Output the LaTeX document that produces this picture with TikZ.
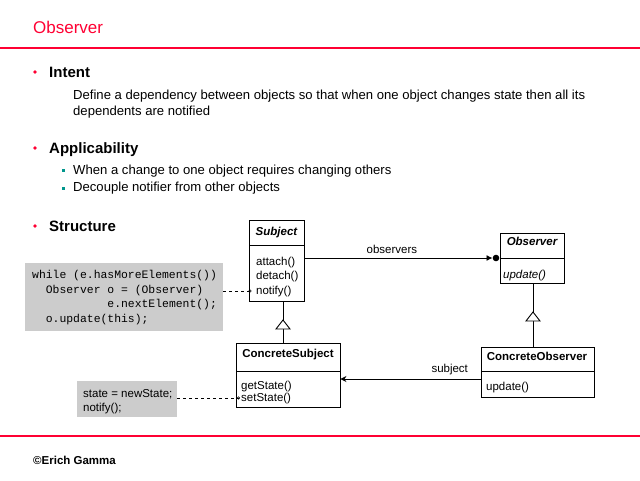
\documentclass[tikz,border=0pt]{standalone}
\usepackage{fontspec}
\setmainfont{Liberation Sans}
\setmonofont{Liberation Mono}
\usetikzlibrary{arrows.meta}
\definecolor{titlered}{RGB}{255,0,51}
\definecolor{bulletteal}{RGB}{0,150,140}
\definecolor{notegray}{RGB}{204,204,204}
\tikzset{
  txt/.style={inner sep=0pt, anchor=base west},
  ctxt/.style={inner sep=0pt, anchor=base},
  classbox/.style={draw=black, line width=0.9pt, fill=white, inner sep=0pt},
  notebox/.style={fill=notegray, inner sep=0pt},
  redline/.style={draw=titlered, line width=1.2pt},
  uml/.style={font=\fontsize{11.5}{14}\selectfont},
  umlb/.style={font=\fontsize{11.5}{14}\selectfont\bfseries},
  umlbi/.style={font=\fontsize{11.5}{14}\selectfont\bfseries\itshape},
  head/.style={font=\fontsize{15}{18}\selectfont\bfseries},
  body/.style={font=\fontsize{13.1}{16}\selectfont},
  conn/.style={draw=black, line width=0.9pt},
  noteconn/.style={draw=black, line width=0.8pt, dash pattern=on 3pt off 3pt},
  gentri/.style={draw=black, line width=0.9pt, fill=white}
}
\begin{document}
\begin{tikzpicture}[x=1pt,y=-1pt]
\useasboundingbox (0,0) rectangle (640,480);
\fill[white] (0,0) rectangle (640,480);

% title and rules
\node[txt, text=titlered, font=\fontsize{17}{20}\selectfont] (title) at (33,33) {Observer};
\draw[redline] (0,48) coordinate (rt1) -- (640,48) coordinate (rt2);
\draw[redline] (0,436) coordinate (rb1) -- (640,436) coordinate (rb2);

% bullets
\fill[titlered] (35,72) circle (1.8);
\fill[titlered] (35,148) circle (1.8);
\fill[titlered] (35,226) circle (1.8);
\fill[bulletteal] (61.5,168.5) rectangle (64.5,171.5);
\fill[bulletteal] (61.5,186.5) rectangle (64.5,189.5);

\node[txt, head] (intent) at (49,77.3) {Intent};
\node[txt, body] (def1) at (73,99) {Define a dependency between objects so that when one object changes state then all its};
\node[txt, body] (def2) at (73,115) {dependents are notified};
\node[txt, head] (appl) at (49,153.5) {Applicability};
\node[txt, body] (app1) at (73,174) {When a change to one object requires changing others};
\node[txt, body] (app2) at (73,191.5) {Decouple notifier from other objects};
\node[txt, head] (struct) at (49,231) {Structure};

% code note
\node[notebox, minimum width=198, minimum height=68] (note1) at (124,297) {};
\node[txt, font=\fontsize{11.4}{14.7}\selectfont\ttfamily] (c1) at (32,278.3) {while (e.hasMoreElements())};
\node[txt, font=\fontsize{11.4}{14.7}\selectfont\ttfamily] (c2) at (32,293.3) {\ \ Observer o = (Observer)};
\node[txt, font=\fontsize{11.4}{14.7}\selectfont\ttfamily] (c3) at (32,307.8) {\ \ \ \ \ \ \ \ \ \ \ e.nextElement();};
\node[txt, font=\fontsize{11.4}{14.7}\selectfont\ttfamily] (c4) at (32,322.4) {\ \ o.update(this);};

% second note
\node[notebox, minimum width=100, minimum height=36] (note2) at (127,399) {};
\node[txt, uml] (n1) at (83,397.3) {state = newState;};
\node[txt, uml] (n2) at (83,411) {notify();};

% Subject class
\node[classbox, minimum width=55, minimum height=81] (subject) at (276.5,260.5) {};
\draw[conn] (249,245) -- (304,245);
\node[ctxt, umlbi] (subjectT) at (276.5,235.7) {Subject};
\node[txt, uml] (attach) at (256,265.7) {attach()};
\node[txt, uml] (detach) at (256,279.5) {detach()};
\node[txt, uml] (notify) at (256,294.3) {notify()};

% Observer class
\node[classbox, minimum width=64, minimum height=50] (observer) at (532,258) {};
\draw[conn] (500,258) -- (564,258);
\node[ctxt, umlbi] (observerT) at (532,245.7) {Observer};
\node[txt, uml, font=\fontsize{11.5}{14}\selectfont\itshape] (oupdate) at (503,278.3) {update()};

% ConcreteSubject class
\node[classbox, minimum width=104, minimum height=64] (csubject) at (288,375) {};
\draw[conn] (236,371) -- (340,371);
\node[ctxt, umlb] (csubjectT) at (288,357.3) {ConcreteSubject};
\node[txt, uml] (getstate) at (241,389.3) {getState()};
\node[txt, uml] (setstate) at (241,401.7) {setState()};

% ConcreteObserver class
\node[classbox, minimum width=113, minimum height=50] (cobserver) at (537.5,372) {};
\draw[conn] (481,371) -- (594,371);
\node[ctxt, umlb] (cobserverT) at (537,360.7) {ConcreteObserver};
\node[txt, uml] (coupdate) at (486,390.7) {update()};

% generalisations
\coordinate (t1apex) at (283,320);
\coordinate (t1base) at (283,329);
\draw[conn] (subject.south -| t1apex) -- (t1apex);
\draw[conn] (t1base) -- (csubject.north -| t1base);
\draw[gentri] (t1apex) -- (276,329) -- (290,329) -- cycle;

\coordinate (t2apex) at (533,312);
\coordinate (t2base) at (533,321);
\draw[conn] (observer.south -| t2apex) -- (t2apex);
\draw[conn] (t2base) -- (cobserver.north -| t2base);
\draw[gentri] (t2apex) -- (526,321) -- (540,321) -- cycle;

% observers association
\coordinate (obsend) at (492.5,258);
\draw[conn, -{Latex[length=6pt,width=6pt]}] (subject.east |- 0,258) -- node[above=4pt, inner sep=0pt, uml, pos=0.465] (obslabel) {observers} (obsend);
\fill[black] (496,258) circle (3.3);

% subject association
\draw[conn, -{Stealth[length=6pt,width=6pt]}] (cobserver.west |- 0,379) -- node[above=4pt, inner sep=0pt, uml, pos=0.22] (sublabel) {subject} (csubject.east |- 0,379);

% note connectors
\coordinate (n1end) at (250,291);
\coordinate (n2end) at (238.5,398);
\draw[noteconn] (note1.east |- n1end) -- (n1end);
\draw[line width=0.6pt] (n1end) circle (1.3);
\draw[noteconn] (note2.east |- n2end) -- (n2end);
\draw[line width=0.6pt] (n2end) circle (1.3);

% footer
\node[txt, font=\fontsize{11.5}{14}\selectfont\bfseries] (copy) at (33,464.3) {©Erich Gamma};
\end{tikzpicture}
\end{document}
